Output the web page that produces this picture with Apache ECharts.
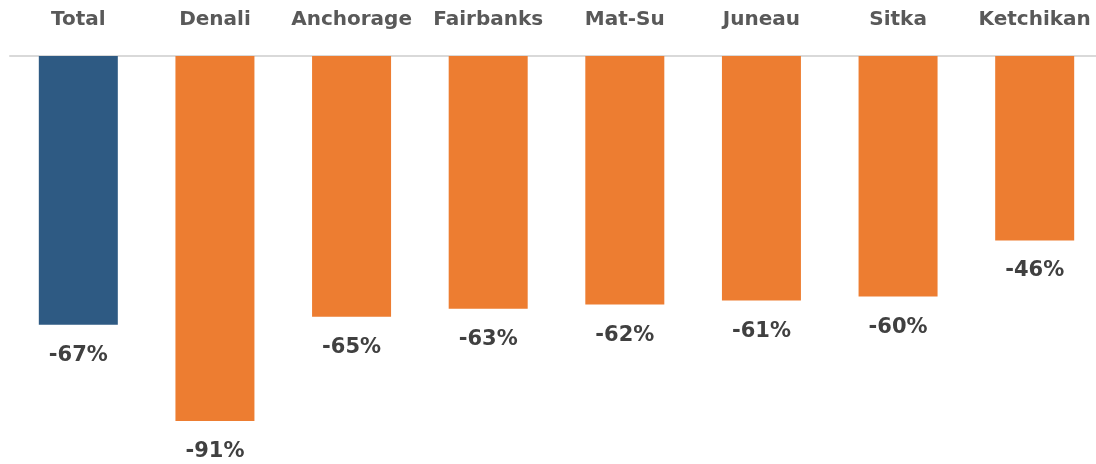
<!DOCTYPE html>
<html>
<head>
<meta charset="utf-8">
<script src="https://cdn.jsdelivr.net/npm/echarts@6/dist/echarts.min.js"></script>
<style>html,body{margin:0;padding:0;background:#fff;overflow:hidden;}#c{width:1104px;height:464px;}</style>
</head>
<body>
<div id="c"></div>
<script>
const categories = ['Total','Denali','Anchorage','Fairbanks','Mat-Su','Juneau','Sitka','Ketchikan'];
const values = [-67,-91,-65,-63,-62,-61,-60,-46];
const barColors = ['#2E5A83','#ED7D31','#ED7D31','#ED7D31','#ED7D31','#ED7D31','#ED7D31','#ED7D31'];

const chart = echarts.init(document.getElementById('c'));
chart.setOption({
  animation: false,
  grid: {left: 10, right: 1, top: 56, bottom: 7, containLabel: false},
  xAxis: {
    type: 'category',
    position: 'top',
    data: categories,
    axisLine: {show: true, lineStyle: {color: '#D9D9D9', width: 2}},
    axisTick: {show: false},
    axisLabel: {interval: 0, hideOverlap: false, margin: 26, color: '#595959', fontFamily: 'DejaVu Sans', fontWeight: 'bold', fontSize: 20}
  },
  yAxis: {
    type: 'value', min: -100, max: 0, show: false,
    splitLine: {show: false}
  },
  series: [{
    type: 'bar',
    barWidth: 79,
    data: values.map((v, i) => ({value: v, itemStyle: {color: barColors[i]}})),
    label: {
      show: true, position: 'bottom', distance: 20,
      formatter: p => p.value + '%',
      color: '#404040', fontFamily: 'DejaVu Sans', fontWeight: 'bold', fontSize: 21
    }
  }]
});
</script>
</body>
</html>
